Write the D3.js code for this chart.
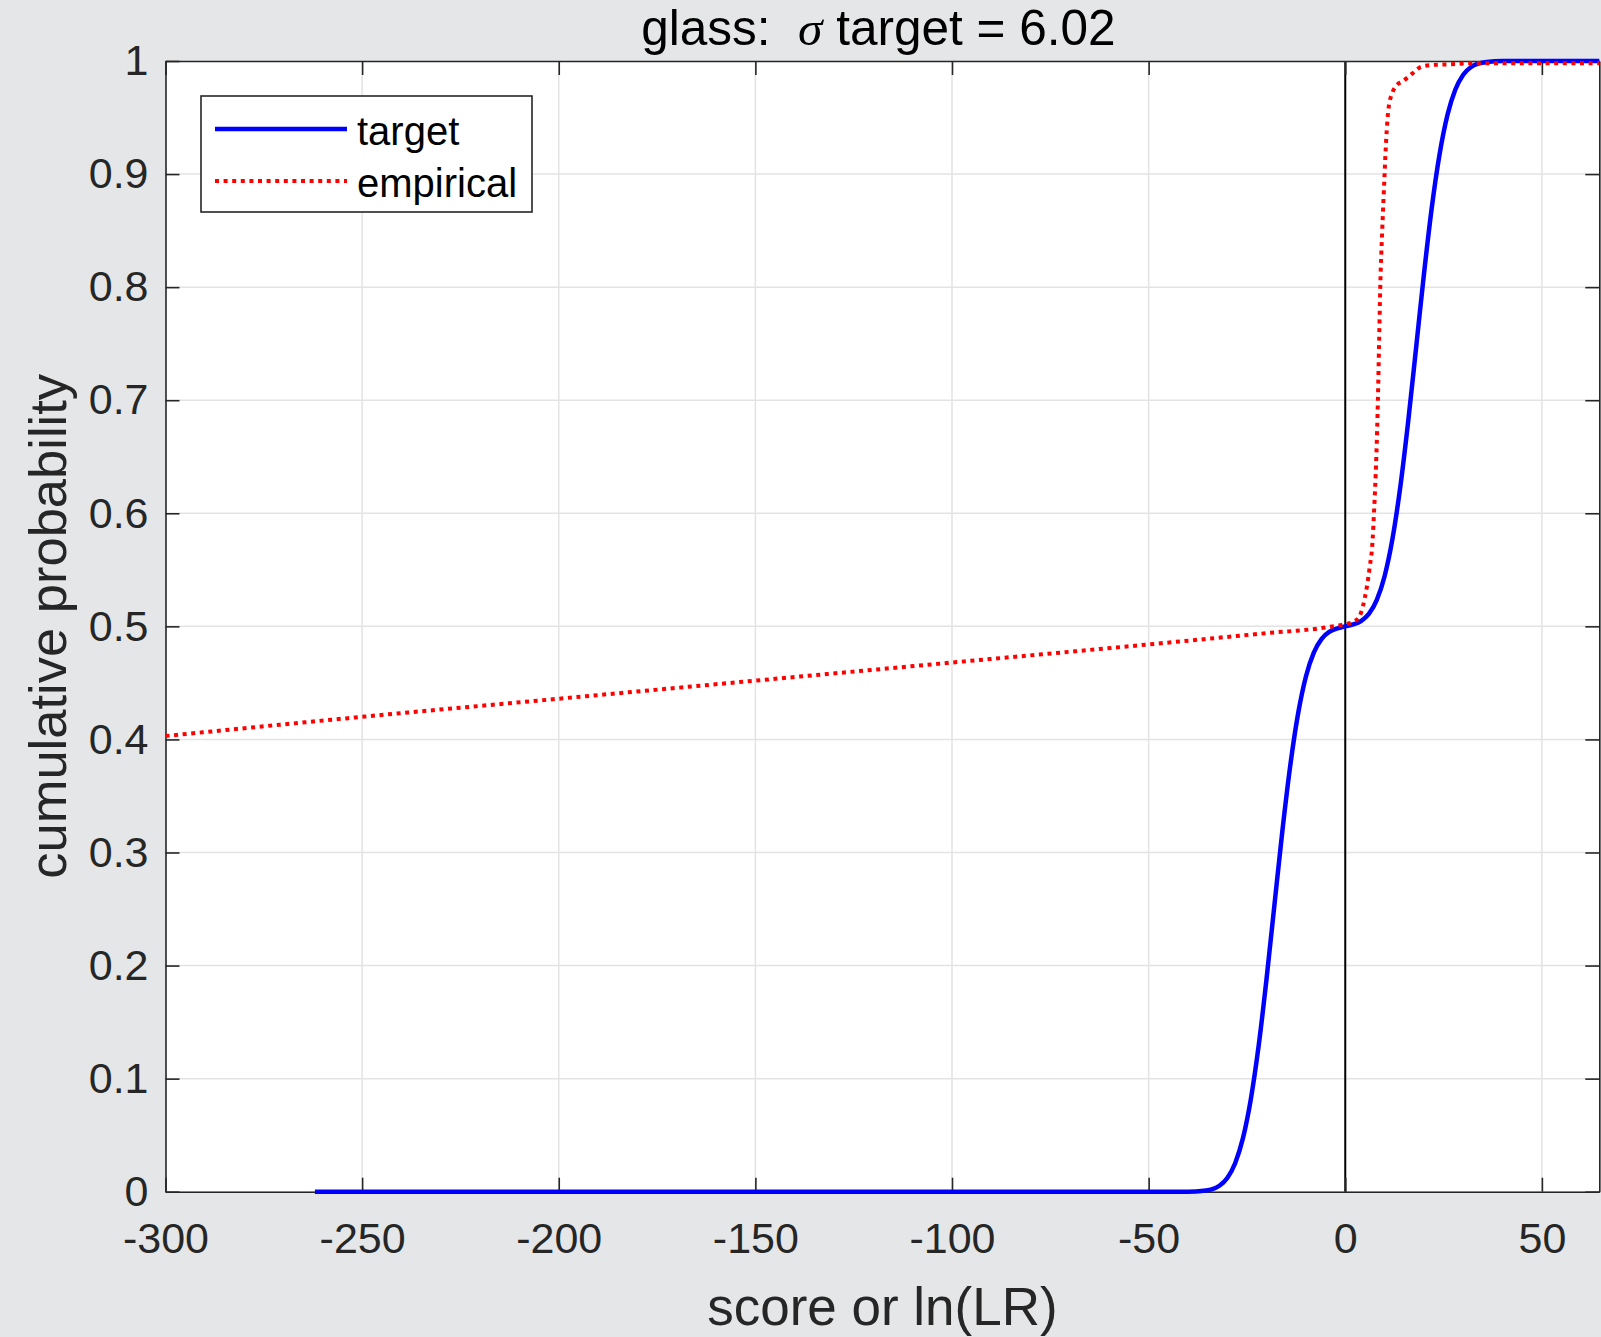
<!DOCTYPE html>
<html>
<head>
<meta charset="utf-8">
<script src="https://cdn.jsdelivr.net/npm/d3@7"></script>
<style>
  html, body { margin: 0; padding: 0; background: #e5e6e8; }
  svg { display: block; }
  text { font-family: "Liberation Sans", Arial, Helvetica, sans-serif; }
</style>
</head>
<body>
<svg id="chart" width="1601" height="1337"></svg>
<script>
// Target cumulative distribution (score or ln(LR) vs. cumulative probability)
const targetX = [-262, -40, -36, -34, -32, -30, -28, -26, -24, -22, -20, -18, -16, -14, -12, -10, -8, -6, -4, -2,
                 0, 2, 4, 6, 8, 10, 12, 14, 16, 18, 20, 22, 24, 26, 28, 30, 32, 34, 36, 40, 64.6];
const targetY = [0, 0, 0.0008, 0.0021, 0.0053, 0.0121, 0.0252, 0.0476, 0.0822, 0.1297, 0.1888, 0.2540, 0.3188,
                 0.3765, 0.4227, 0.4557, 0.4768, 0.4890, 0.4953, 0.4983,
                 0.5000, 0.5017, 0.5047, 0.5110, 0.5232, 0.5443, 0.5773, 0.6235, 0.6812, 0.7460, 0.8112, 0.8703,
                 0.9178, 0.9524, 0.9748, 0.9879, 0.9947, 0.9979, 0.9992, 1.0, 1.0];

// Empirical cumulative distribution
const empiricalX = [-300, -250, -200, -150, -100, -50, -20, -5, 0, 2, 3.5, 4.5, 5.5, 6.2, 6.95, 7.3, 7.9, 8.3, 8.6,
                    8.9, 9.4, 10.0, 10.4, 11.0, 12.0, 12.9, 14.6, 17.1, 19.3, 22.2, 26.4, 32.4, 64.6];
const empiricalY = [0.403, 0.420, 0.436, 0.452, 0.468, 0.484, 0.494, 0.499, 0.502, 0.504, 0.508, 0.518, 0.535,
                    0.552, 0.576, 0.600, 0.650, 0.700, 0.750, 0.800, 0.850, 0.900, 0.930, 0.958, 0.972, 0.978,
                    0.982, 0.989, 0.995, 0.9965, 0.997, 0.998, 0.998];

const xTicks = [-300, -250, -200, -150, -100, -50, 0, 50];
const xTickLabels = ["-300", "-250", "-200", "-150", "-100", "-50", "0", "50"];
const yTicks = [0, 0.1, 0.2, 0.3, 0.4, 0.5, 0.6, 0.7, 0.8, 0.9, 1];
const yTickLabels = ["0", "0.1", "0.2", "0.3", "0.4", "0.5", "0.6", "0.7", "0.8", "0.9", "1"];
const seriesNames = ["target", "empirical"];

const svg = d3.select("#chart");
const plot = { left: 165.5, right: 1599.3, top: 61, bottom: 1191.7 };
const axisColor = "#262626";
const tickLen = 14;
const dotted = "4 4.6";

const x = d3.scaleLinear().domain([-300, 64.6]).range([plot.left, plot.right]);
const y = d3.scaleLinear().domain([0, 1]).range([plot.bottom, plot.top]);

// plot area
svg.append("rect")
  .attr("x", plot.left).attr("y", plot.top)
  .attr("width", plot.right - plot.left).attr("height", plot.bottom - plot.top)
  .attr("fill", "#ffffff");

// grid
const grid = svg.append("g").attr("stroke", "#e3e3e3").attr("stroke-width", 1.5);
grid.selectAll("line.gx").data(xTicks).join("line")
  .attr("x1", d => x(d)).attr("x2", d => x(d))
  .attr("y1", plot.top).attr("y2", plot.bottom);
grid.selectAll("line.gy").data(yTicks).join("line")
  .attr("x1", plot.left).attr("x2", plot.right)
  .attr("y1", d => y(d)).attr("y2", d => y(d));

// zero reference line
svg.append("line")
  .attr("x1", x(0)).attr("x2", x(0))
  .attr("y1", plot.top).attr("y2", plot.bottom)
  .attr("stroke", "#000").attr("stroke-width", 2);

// axes
function styleAxis(g) {
  g.select(".domain").attr("stroke", axisColor).attr("stroke-width", 1.6);
  g.selectAll(".tick line").attr("stroke", axisColor).attr("stroke-width", 1.6);
  g.selectAll(".tick text").attr("fill", axisColor).attr("font-size", 43)
    .attr("font-family", '"Liberation Sans", Arial, Helvetica, sans-serif');
}

svg.append("g")
  .attr("transform", `translate(0,${plot.bottom})`)
  .call(d3.axisBottom(x).tickValues(xTicks).tickFormat((d, i) => xTickLabels[i])
    .tickSizeInner(-tickLen).tickSizeOuter(0).tickPadding(31))
  .call(styleAxis);

svg.append("g")
  .attr("transform", `translate(0,${plot.top})`)
  .call(d3.axisTop(x).tickValues(xTicks).tickFormat("")
    .tickSizeInner(-tickLen).tickSizeOuter(0))
  .call(styleAxis);

svg.append("g")
  .attr("transform", `translate(${plot.left},0)`)
  .call(d3.axisLeft(y).tickValues(yTicks).tickFormat((d, i) => yTickLabels[i])
    .tickSizeInner(-tickLen).tickSizeOuter(0).tickPadding(17))
  .call(styleAxis);

svg.append("g")
  .attr("transform", `translate(${plot.right},0)`)
  .call(d3.axisRight(y).tickValues(yTicks).tickFormat("")
    .tickSizeInner(-tickLen).tickSizeOuter(0))
  .call(styleAxis);

// curves
const line = d3.line().x(d => x(d[0])).y(d => y(d[1])).curve(d3.curveMonotoneX);
const targetPts = targetX.map((v, i) => [v, targetY[i]]);
const empiricalPts = empiricalX.map((v, i) => [v, empiricalY[i]]);

svg.append("path").datum(targetPts)
  .attr("d", line)
  .attr("fill", "none").attr("stroke", "#0000ff").attr("stroke-width", 4.5)
  .attr("stroke-linejoin", "round");

svg.append("path").datum(empiricalPts)
  .attr("d", line)
  .attr("fill", "none").attr("stroke", "#ff0000").attr("stroke-width", 4)
  .attr("stroke-dasharray", dotted);

// legend
const legend = svg.append("g");
legend.append("rect")
  .attr("x", 201).attr("y", 96).attr("width", 331).attr("height", 116)
  .attr("fill", "#fff").attr("stroke", axisColor).attr("stroke-width", 1.6);
const legendRows = [
  { name: seriesNames[0], color: "#0000ff", dash: null, w: 4.5, cy: 129 },
  { name: seriesNames[1], color: "#ff0000", dash: dotted, w: 4, cy: 181 }
];
legendRows.forEach(r => {
  legend.append("line")
    .attr("x1", 215).attr("x2", 347).attr("y1", r.cy).attr("y2", r.cy)
    .attr("stroke", r.color).attr("stroke-width", r.w)
    .attr("stroke-dasharray", r.dash);
  legend.append("text")
    .attr("x", 357).attr("y", r.cy + 2).attr("dy", "0.35em")
    .attr("font-size", 40).attr("fill", "#000").text(r.name);
});

// title
const title = svg.append("text")
  .attr("x", (plot.left + plot.right) / 2 - 4).attr("y", 45)
  .attr("text-anchor", "middle").attr("font-size", 49.5).attr("fill", "#000")
  .style("white-space", "pre");
title.append("tspan").text("glass:  ");
title.append("tspan").attr("font-family", '"Liberation Serif", "DejaVu Serif", serif')
  .attr("font-style", "italic").text("σ");
title.append("tspan").text(" target = 6.02");

// axis labels
svg.append("text")
  .attr("x", (plot.left + plot.right) / 2).attr("y", 1325)
  .attr("text-anchor", "middle").attr("font-size", 53).attr("fill", axisColor)
  .text("score or ln(LR)");

svg.append("text")
  .attr("transform", `translate(66,${(plot.top + plot.bottom) / 2}) rotate(-90)`)
  .attr("text-anchor", "middle").attr("font-size", 52.5).attr("fill", axisColor)
  .text("cumulative probability");
</script>
</body>
</html>
